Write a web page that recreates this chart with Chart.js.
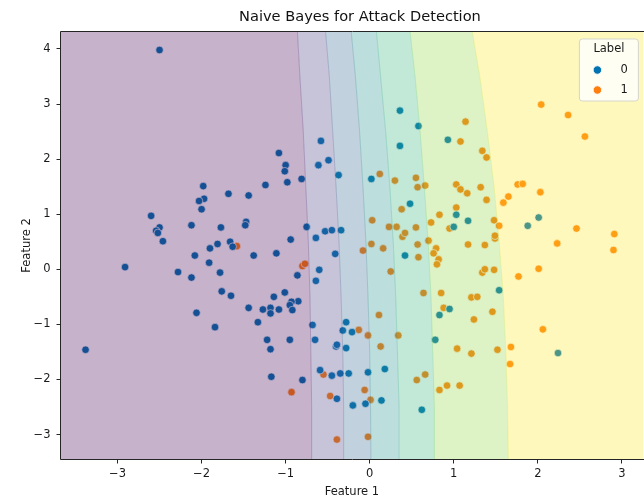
<!DOCTYPE html>
<html>
<head>
<meta charset="utf-8">
<script src="https://cdn.jsdelivr.net/npm/chart.js@4.4.1/dist/chart.umd.min.js"></script>
<style>
  html, body { margin: 0; padding: 0; background: #ffffff; overflow: hidden; }
  #wrap { width: 648px; height: 502px; }
</style>
</head>
<body>
<div id="wrap"><canvas id="c" width="648" height="502"></canvas></div>
<script>
// Test samples, class 0 (normal traffic): [feature 1, feature 2]
const label0Points = [
  [-2.50,3.98],[-1.08,2.11],[-0.58,2.33],[-1.00,1.89],[-1.01,1.78],[-0.61,1.89],[-0.49,1.98],[-0.98,1.58],[-0.81,1.64],[-0.37,1.71],
  [-1.98,1.51],[-1.24,1.53],[-1.68,1.37],[-1.44,1.34],[-1.97,1.28],[-2.03,1.24],[-2.00,1.09],[-2.60,0.97],[-2.50,0.76],[-2.54,0.70],
  [-2.52,0.66],[-2.46,0.51],[-2.12,0.80],[-1.77,0.76],[-1.47,0.86],[-1.48,0.80],[-0.75,0.77],[-0.94,0.54],[-0.64,0.57],[-0.53,0.69],
  [-0.45,0.71],[-0.34,0.71],[-1.81,0.46],[-1.66,0.50],[-1.63,0.41],[-1.90,0.38],[-2.08,0.25],[-1.38,0.25],[-1.11,0.29],[-1.91,0.12],
  [-0.86,-0.11],[-0.60,-0.01],[-0.64,-0.21],[-0.41,0.28],[-2.28,-0.05],[-2.12,-0.15],[-1.78,-0.06],[-1.76,-0.40],[-1.65,-0.48],[-1.14,-0.50],
  [-1.01,-0.42],[-0.85,-0.58],[-0.93,-0.59],[-0.95,-0.65],[-1.44,-0.70],[-1.27,-0.73],[-1.18,-0.70],[-1.08,-0.73],[-0.92,-0.74],[-1.18,-0.80],
  [-2.91,0.04],[-2.06,-0.79],[-1.33,-0.96],[-1.84,-1.05],[-0.68,-1.01],[-0.32,-1.11],[-0.28,-0.96],[-1.22,-1.28],[-1.18,-1.45],[-0.95,-1.28],
  [-0.65,-1.28],[-0.40,-1.40],[-0.39,-1.37],[-0.28,-1.43],[-3.38,-1.46],[-0.59,-1.83],[-0.45,-1.93],[-0.35,-1.89],[-0.25,-1.89],[-1.17,-1.95],
  [-0.80,-2.01],[-0.39,-2.35],[-0.21,-1.14],[-0.02,-1.87],[0.18,-1.81],[-0.20,-2.47],[-0.05,-2.44],[0.14,-2.38],[0.42,0.25],[1.54,-0.38],
  [0.95,-0.72],[0.83,-0.83],[2.24,-1.52],[0.78,-1.28],[0.62,-2.55],[0.36,2.88],[0.58,2.60],[0.36,2.24],[0.93,2.35],[0.02,1.64],
  [0.48,1.19],[1.03,0.99],[1.17,0.88],[1.00,0.77],[1.88,0.79],[2.01,0.94]
];

// Test samples, class 1 (attack traffic)
const label1Points = [
  [-1.58,0.42],[-0.80,0.06],[-0.77,0.10],[-0.93,-2.23],[-0.55,-1.91],[-0.47,-2.30],[-0.39,-3.09],[0.25,-0.04],[-0.13,-1.10],[-0.02,-1.20],
  [0.11,-0.83],[0.13,-1.40],[0.34,-1.20],[-0.06,-2.19],[0.01,-2.37],[-0.02,-3.04],[-0.08,0.34],[0.02,0.46],[0.16,0.38],[0.39,0.59],
  [0.42,0.66],[0.57,0.45],[0.58,0.22],[0.70,0.52],[0.79,0.38],[0.76,0.29],[0.82,0.18],[0.80,0.09],[1.17,0.45],[1.37,0.44],
  [1.49,0.56],[1.49,0.61],[1.34,-0.06],[1.37,0.00],[1.48,-0.01],[0.64,-0.43],[0.85,-0.43],[1.21,-0.51],[1.28,-0.50],[0.88,-0.70],
  [1.24,-0.91],[1.46,-0.77],[1.77,-0.13],[2.01,0.01],[2.23,0.47],[2.91,0.64],[2.90,0.35],[2.06,-1.09],[1.68,-1.41],[1.67,-1.72],
  [1.52,-1.46],[1.21,-1.53],[1.04,-1.44],[0.56,-2.01],[0.66,-1.91],[0.83,-2.19],[0.92,-2.11],[1.07,-2.11],[2.04,2.99],[2.36,2.80],
  [2.56,2.41],[1.14,2.68],[1.08,2.32],[1.34,2.15],[1.39,2.03],[0.12,1.73],[0.30,1.61],[0.55,1.66],[0.57,1.49],[0.66,1.52],
  [1.03,1.54],[1.08,1.45],[1.16,1.38],[1.32,1.49],[1.39,1.26],[1.76,1.54],[1.82,1.55],[2.03,1.40],[1.65,1.32],[1.59,1.21],
  [0.38,1.09],[1.03,1.12],[0.83,0.99],[0.73,0.85],[0.55,0.76],[0.32,0.77],[0.23,0.77],[0.03,0.89],[0.95,0.74],[1.48,0.89],
  [1.54,0.79],[2.46,0.74]
];

const legendLabels = ['0', '1'];
const xTicks = [-3, -2, -1, 0, 1, 2, 3];
const yTicks = [-3, -2, -1, 0, 1, 2, 3, 4];
const xRange = [-3.678, 3.256];
const yRange = [-3.452, 4.316];

// Decision-probability contours of the Naive Bayes model (P(attack) = 0.15, 0.30 ... 0.90).
// Each list gives the contour's feature-1 position at the feature-2 rows in contourRows.
const contourRows = [4.32, 3.5, 2.5, 1.5, 0.5, -0.5, -1.5, -2.5, -3.46];
const contourP015 = [-0.86, -0.83, -0.79, -0.76, -0.73, -0.71, -0.70, -0.69, -0.69];
const contourP030 = [-0.525, -0.48, -0.44, -0.40, -0.365, -0.34, -0.32, -0.31, -0.31];
const contourP045 = [-0.22, -0.17, -0.12, -0.08, -0.045, -0.02, 0.00, 0.01, 0.015];
const contourP060 = [0.08, 0.13, 0.19, 0.24, 0.28, 0.31, 0.33, 0.35, 0.35];
const contourP075 = [0.48, 0.54, 0.60, 0.65, 0.695, 0.73, 0.75, 0.77, 0.77];
const contourP090 = [1.22, 1.31, 1.40, 1.48, 1.54, 1.59, 1.62, 1.64, 1.65];
const contourLines = [contourP015, contourP030, contourP045, contourP060, contourP075, contourP090];

// viridis steps for the seven filled bands
const bandColors = [[68,1,84],[68,58,131],[49,104,142],[33,145,140],[53,183,121],[144,215,67],[253,231,37]];
const bandAlpha = 0.3;

const classColors = ['#0173b2', '#ff7f0e'];
const FONT = '"DejaVu Sans", "Liberation Sans", sans-serif';
const INK = '#262626';

const fmt = v => (v < 0 ? '\u2212' + Math.abs(v) : String(v));
const toXY = pts => pts.map(p => ({ x: p[0], y: p[1] }));

// Filled probability bands laid over the scatter, like contourf(alpha=0.3)
const bandsPlugin = {
  id: 'bands',
  afterDatasetsDraw(chart) {
    const { ctx, chartArea: a, scales: { x, y } } = chart;
    ctx.save();
    ctx.beginPath();
    ctx.rect(a.left, a.top, a.right - a.left, a.bottom - a.top);
    ctx.clip();
    const leftEdge = contourRows.map(() => x.min - 1);
    const rightEdge = contourRows.map(() => x.max + 1);
    const edges = [leftEdge, ...contourLines, rightEdge];
    for (let k = 0; k < bandColors.length; k++) {
      const L = edges[k], R = edges[k + 1];
      ctx.beginPath();
      contourRows.forEach((r, i) => {
        const px = x.getPixelForValue(L[i]), py = y.getPixelForValue(r);
        if (i === 0) ctx.moveTo(px, py); else ctx.lineTo(px, py);
      });
      for (let i = contourRows.length - 1; i >= 0; i--) {
        ctx.lineTo(x.getPixelForValue(R[i]), y.getPixelForValue(contourRows[i]));
      }
      ctx.closePath();
      const c = bandColors[k];
      ctx.fillStyle = `rgba(${c[0]},${c[1]},${c[2]},${bandAlpha})`;
      ctx.fill();
    }
    // faint seams along each contour
    contourLines.forEach((line, k) => {
      const c1 = bandColors[k], c2 = bandColors[k + 1];
      ctx.beginPath();
      contourRows.forEach((r, i) => {
        const px = x.getPixelForValue(line[i]), py = y.getPixelForValue(r);
        if (i === 0) ctx.moveTo(px, py); else ctx.lineTo(px, py);
      });
      ctx.strokeStyle = `rgba(${(c1[0]+c2[0])>>1},${(c1[1]+c2[1])>>1},${(c1[2]+c2[2])>>1},0.25)`;
      ctx.lineWidth = 1;
      ctx.stroke();
    });
    ctx.restore();
  }
};

// Spines, title and the "Label" legend box
const framePlugin = {
  id: 'frame',
  afterDraw(chart) {
    const { ctx, chartArea: a } = chart;
    ctx.save();
    ctx.strokeStyle = INK;
    ctx.lineWidth = 1;
    ctx.beginPath();
    ctx.moveTo(a.left, a.bottom); ctx.lineTo(a.left, a.top); ctx.lineTo(a.right + 1, a.top);
    ctx.moveTo(a.left, a.bottom); ctx.lineTo(a.right + 1, a.bottom);
    ctx.stroke();

    ctx.fillStyle = '#111';
    ctx.font = '14.6px ' + FONT;
    ctx.textAlign = 'center';
    ctx.textBaseline = 'middle';
    ctx.fillText('Naive Bayes for Attack Detection', (a.left + a.right) / 2 + 8, 17);

    // legend
    const w = 59, h = 62;
    const x0 = a.right - 5 - w, y0 = a.top + 7.5;
    const r = 3;
    ctx.beginPath();
    ctx.moveTo(x0 + r, y0);
    ctx.arcTo(x0 + w, y0, x0 + w, y0 + h, r);
    ctx.arcTo(x0 + w, y0 + h, x0, y0 + h, r);
    ctx.arcTo(x0, y0 + h, x0, y0, r);
    ctx.arcTo(x0, y0, x0 + w, y0, r);
    ctx.closePath();
    ctx.fillStyle = 'rgba(255,255,255,0.8)';
    ctx.fill();
    ctx.strokeStyle = 'rgba(204,204,204,0.8)';
    ctx.lineWidth = 1;
    ctx.stroke();

    ctx.font = '11.5px ' + FONT;
    ctx.fillStyle = '#1a1a1a';
    ctx.textAlign = 'center';
    ctx.fillText('Label', x0 + w / 2, y0 + 10);
    chart.data.datasets.forEach((ds, i) => {
      const cy = y0 + 31 + i * 20;
      ctx.beginPath();
      ctx.arc(x0 + 18, cy, 4.2, 0, Math.PI * 2);
      ctx.fillStyle = ds.backgroundColor;
      ctx.fill();
      ctx.strokeStyle = '#ffffff';
      ctx.lineWidth = 0.8;
      ctx.stroke();
      ctx.fillStyle = '#1a1a1a';
      ctx.textAlign = 'left';
      ctx.fillText(ds.label, x0 + 41, cy);
    });
    ctx.restore();
  }
};

const tickFont = { family: FONT, size: 11.5 };

new Chart(document.getElementById('c'), {
  type: 'scatter',
  data: {
    datasets: [
      { label: legendLabels[0], data: toXY(label0Points), backgroundColor: classColors[0],
        borderColor: 'rgba(255,255,255,0.85)', borderWidth: 0.8, pointRadius: 3.8, pointHoverRadius: 3.8 },
      { label: legendLabels[1], data: toXY(label1Points), backgroundColor: classColors[1],
        borderColor: 'rgba(255,255,255,0.85)', borderWidth: 0.8, pointRadius: 3.8, pointHoverRadius: 3.8 }
    ]
  },
  options: {
    responsive: false,
    animation: false,
    events: [],
    layout: { padding: { top: 31.5, left: 0, right: 0, bottom: 0 } },
    plugins: { legend: { display: false }, title: { display: false }, tooltip: { enabled: false } },
    scales: {
      x: {
        type: 'linear', min: xRange[0], max: xRange[1],
        afterBuildTicks: s => { s.ticks = xTicks.map(v => ({ value: v })); },
        afterFit: s => { s.height = 42.5; },
        grid: { drawOnChartArea: false, drawTicks: true, tickLength: 4, color: INK, tickWidth: 1 },
        border: { display: false },
        ticks: { font: tickFont, color: '#1a1a1a', padding: 4, maxRotation: 0, autoSkip: false, callback: fmt },
        title: { display: true, text: 'Feature 1', font: tickFont, color: '#1a1a1a', padding: { top: 0, bottom: 3 } }
      },
      y: {
        type: 'linear', min: yRange[0], max: yRange[1],
        afterBuildTicks: s => { s.ticks = yTicks.map(v => ({ value: v })); },
        afterFit: s => { s.width = 60.5; },
        grid: { drawOnChartArea: false, drawTicks: true, tickLength: 4, color: INK, tickWidth: 1 },
        border: { display: false },
        ticks: { font: tickFont, color: '#1a1a1a', padding: 6, autoSkip: false, callback: fmt },
        title: { display: true, text: 'Feature 2', font: tickFont, color: '#1a1a1a', padding: { top: 20.5, bottom: 0 } }
      }
    }
  },
  plugins: [bandsPlugin, framePlugin]
});
</script>
</body>
</html>
